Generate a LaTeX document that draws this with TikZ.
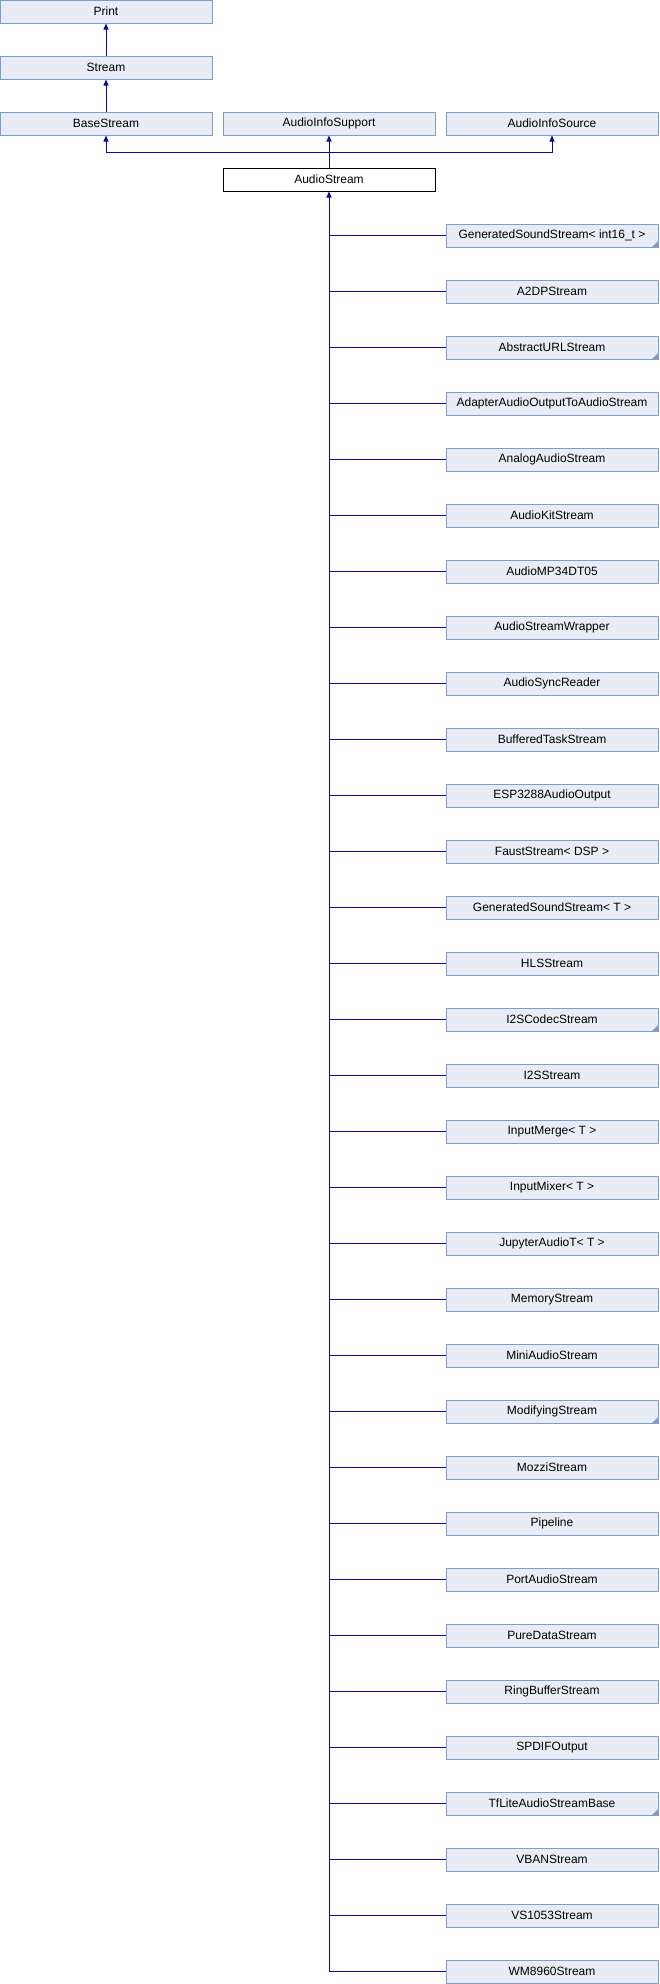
\documentclass[tikz,border=0pt]{standalone}
\usepackage{fontspec}
\setmainfont{Liberation Sans}
\usetikzlibrary{arrows.meta,positioning}

\definecolor{boxfill}{HTML}{E8ECF5}
\definecolor{boxline}{HTML}{7F9BD4}
\definecolor{edgeblue}{HTML}{0A0A99}

\tikzset{
  cls/.style={draw=boxline,fill=boxfill,line width=1pt,minimum width=212pt,minimum height=23pt,inner sep=0pt,font=\fontsize{12}{14}\selectfont},
  cur/.style={cls,draw=black,fill=white},
  link/.style={draw=edgeblue,line width=1pt},
  inh/.style={link,-{Triangle[length=6pt,width=5pt]}},
  fold/.style={fill=boxline}
}

\begin{document}
\begin{tikzpicture}[x=1pt,y=-1pt]
\useasboundingbox (0,0) rectangle (659,1984);

\node[cls] (print) at (106,11.5) {Print};
\node[cls] (stream) at (106,67.5) {Stream};
\node[cls] (base) at (106,123.5) {BaseStream};
\node[cls] (support) at (329,123.5) {AudioInfoSupport};
\node[cls] (source) at (552,123.5) {AudioInfoSource};
\node[cur] (as) at (329,179.5) {AudioStream};
\coordinate (j) at (329,152);

\draw[inh] (stream) -- (print);
\draw[inh] (base) -- (stream);
\draw[inh] (as) -- (support);
\draw[inh] (j) -| (base.south);
\draw[inh] (j) -| (source.south);

% subclasses of AudioStream
\foreach \txt [count=\i from 0] in {GeneratedSoundStream< int16\_t >, A2DPStream, AbstractURLStream,
  AdapterAudioOutputToAudioStream, AnalogAudioStream, AudioKitStream, AudioMP34DT05,
  AudioStreamWrapper, AudioSyncReader, BufferedTaskStream, ESP3288AudioOutput,
  FaustStream< DSP >, GeneratedSoundStream< T >, HLSStream, I2SCodecStream, I2SStream,
  InputMerge< T >, InputMixer< T >, JupyterAudioT< T >, MemoryStream, MiniAudioStream,
  ModifyingStream, MozziStream, Pipeline, PortAudioStream, PureDataStream,
  RingBufferStream, SPDIFOutput, TfLiteAudioStreamBase, VBANStream, VS1053Stream,
  WM8960Stream}{
  \node[cls] (c\i) at (552,235.5+56*\i) {\txt};
  \draw[link] (c\i.west) -- (c\i.west -| as.south);
}
\draw[inh] (c31.west -| as.south) -- (as.south);

% marks on classes with more children
\foreach \i in {0,2,14,21,28}{
  \fill[fold] (c\i.south east) ++(-0.5,-0.5) -- ++(-6,0) -- ++(6,-6) -- cycle;
}
\end{tikzpicture}
\end{document}
